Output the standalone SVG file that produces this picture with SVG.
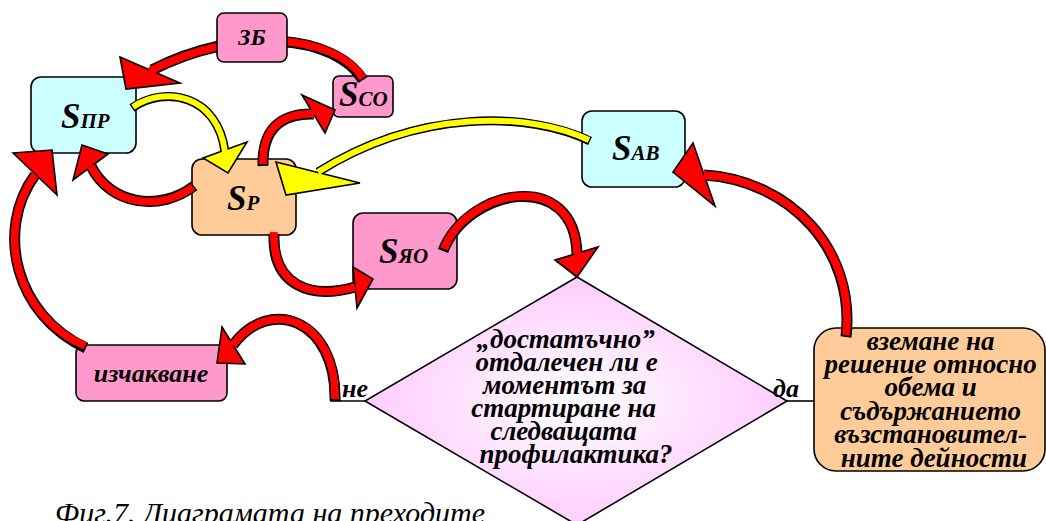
<svg xmlns="http://www.w3.org/2000/svg" width="1046" height="521" viewBox="0 0 1046 521">
<defs>
<radialGradient id="dg" cx="0.5" cy="0.5" r="0.5">
<stop offset="0" stop-color="#ffffff"/>
<stop offset="1" stop-color="#ffccff"/>
</radialGradient>
<style>
.box{stroke:#000;stroke-width:1.6}
.cy{fill:#ccffff}
.pe{fill:#ffcc99}
.pk{fill:#ff99cc}
.t{font-family:"Liberation Serif","Times New Roman",serif;font-weight:bold;font-style:italic;fill:#000}
.ro{fill:none;stroke:#000;stroke-width:11}
.ri{fill:none;stroke:#ff0000;stroke-width:7.8}
.rh{fill:#ff0000;stroke:#000;stroke-width:1.6;stroke-linejoin:miter}
.yo{fill:none;stroke:#000;stroke-width:9}
.yi{fill:none;stroke:#ffff00;stroke-width:6}
.yh{fill:#ffff00;stroke:#000;stroke-width:1.6;stroke-linejoin:miter}
.ln{stroke:#000;stroke-width:1.6;fill:none}
</style>
</defs>
<rect width="1046" height="521" fill="#fff"/>

<g id="node-spr">
<rect class="box cy" x="31" y="77" width="105" height="76" rx="10"/>
<text class="t" x="61" y="128"><tspan font-size="35">S</tspan><tspan font-size="21">ПР</tspan></text>
</g>
<g id="node-sco">
<rect class="box pk" x="333" y="76" width="60" height="41" rx="6"/>
<text class="t" x="339" y="106"><tspan font-size="35">S</tspan><tspan font-size="21">CO</tspan></text>
</g>
<g id="node-sp">
<rect class="box pe" x="192" y="159" width="104" height="76" rx="10"/>
<text class="t" x="227" y="210"><tspan font-size="35">S</tspan><tspan font-size="21">P</tspan></text>
</g>
<g id="node-syo">
<rect class="box pk" x="353" y="213" width="104" height="76" rx="10"/>
<text class="t" x="379" y="263"><tspan font-size="35">S</tspan><tspan font-size="21">ЯО</tspan></text>
</g>
<g id="node-sab">
<rect class="box cy" x="582" y="111" width="103" height="76" rx="10"/>
<text class="t" x="612" y="160"><tspan font-size="35">S</tspan><tspan font-size="21">AB</tspan></text>
</g>
<g id="node-wait">
<rect class="box pk" x="76" y="345" width="151" height="56" rx="8"/>
<text class="t" x="151" y="382" font-size="26" text-anchor="middle">изчакване</text>
</g>
<g id="node-decision">
<polygon points="577,277 787,401 577,525 365,401" fill="url(#dg)" stroke="#000" stroke-width="1.6"/>
<line class="ln" x1="330" y1="401" x2="365" y2="401"/>
<line class="ln" x1="787" y1="401" x2="814" y2="401"/>
<text class="t" x="342" y="397" font-size="26">не</text>
<text class="t" x="773" y="397" font-size="26">да</text>
<text class="t" font-size="27" text-anchor="middle">
<tspan x="569" y="348">„достатъчно”</tspan>
<tspan x="570" y="371">отдалечен ли е</tspan>
<tspan x="568" y="394">моментът за</tspan>
<tspan x="567" y="417">стартиране на</tspan>
<tspan x="567" y="440">следващата</tspan>
<tspan x="576" y="463">профилактика?</tspan>
</text>
</g>
<g id="node-action">
<rect class="box pe" x="814" y="328" width="231" height="143" rx="22"/>
<text class="t" font-size="27" text-anchor="middle">
<tspan x="934" y="350">вземане на</tspan>
<tspan x="934" y="373">решение относно</tspan>
<tspan x="934" y="396">обема и</tspan>
<tspan x="934" y="420">съдържанието</tspan>
<tspan x="934" y="443">възстановител-</tspan>
<tspan x="934" y="467">ните дейности</tspan>
</text>
</g>

<g id="connectors">
<g id="c-sco-spr">
<path class="ro" d="M363,80 C335,35 240,25 152,70"/>
<polygon class="rh" points="120,57 180,83 126,89"/>
<path class="ri" d="M363,78 C335,35 240,25 150,71"/>
</g>
<g id="c-spr-sp">
<path class="yo" d="M132,108 C165,85 218,95 225,152"/>
<polygon class="yh" points="203,158 247,142 228,173"/>
<path class="yi" d="M133,107 C165,85 218,95 225,152"/>
</g>
<g id="c-sp-spr">
<path class="ro" d="M194,186 C160,212 110,205 91,166"/>
<polygon class="rh" points="82,145 108,154 73,180"/>
<path class="ri" d="M193,187 C160,212 110,205 91,166"/>
</g>
<g id="c-sp-sco">
<path class="ro" d="M263,166 C262,130 280,113 314,114"/>
<polygon class="rh" points="302,95 335,110 325,133"/>
<path class="ri" d="M263,164 C262,130 280,113 314,114"/>
</g>
<g id="c-sab-sp">
<path class="yo" d="M590,141 C530,112 420,108 318,172"/>
<polygon class="yh" points="276,162 360,183 286,195"/>
<path class="yi" d="M589,140 C530,112 420,108 318,172"/>
</g>
<g id="c-sp-syo">
<path class="ro" d="M274,234 C272,285 310,300 355,287"/>
<polygon class="rh" points="353,267 373,279 357,308"/>
<path class="ri" d="M274,232 C272,285 310,300 355,287"/>
</g>
<g id="c-syo-dec">
<path class="ro" d="M443,251 C468,188 575,168 577,254"/>
<polygon class="rh" points="555,260 598,247 577,277"/>
<path class="ri" d="M444,249 C468,188 575,168 577,254"/>
</g>
<g id="c-act-sab">
<path class="ro" d="M846,337 C856,250 790,180 704,175"/>
<polygon class="rh" points="693,143 715,206 673,172"/>
<path class="ri" d="M846,335 C856,250 790,180 704,175"/>
</g>
<g id="c-dec-wait">
<path class="ro" d="M335,401 C337,320 270,295 233,345"/>
<polygon class="rh" points="222,327 245,364 217,363"/>
<path class="ri" d="M335,399 C337,320 270,295 233,345"/>
</g>
<g id="c-wait-spr">
<path class="ro" d="M86,348 C15,315 -5,230 35,175"/>
<polygon class="rh" points="13,153 52,150 57,195"/>
<path class="ri" d="M85,346 C15,315 -5,230 35,175"/>
</g>
</g>

<g id="node-zb">
<rect class="box pk" x="217" y="13" width="70" height="49" rx="7"/>
<text class="t" x="252" y="45" font-size="24" text-anchor="middle">ЗБ</text>
</g>

<text id="caption" x="55" y="523" font-family="'Liberation Serif','Times New Roman',serif" font-style="italic" font-size="30">Фиг.7. Диаграмата на преходите</text>
</svg>
